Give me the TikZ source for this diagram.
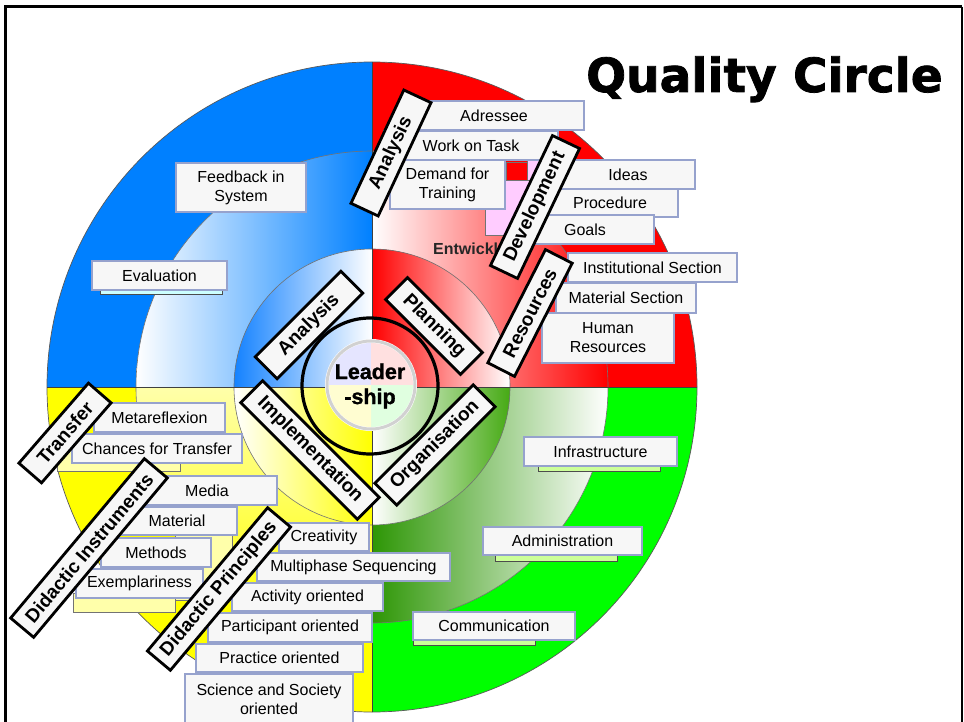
\documentclass[tikz,border=0pt]{standalone}
\usepackage{fontspec}
\setmainfont{Liberation Sans}
\newfontfamily\ttlfont{DejaVu Sans}[BoldFeatures={FakeBold=1.6}]
\newfontfamily\heavyfont{Liberation Sans}[BoldFeatures={FakeBold=1.2}]
\definecolor{qblue}{RGB}{0,128,255}
\definecolor{qred}{RGB}{255,0,0}
\definecolor{qgreen}{RGB}{0,255,0}
\definecolor{qyellow}{RGB}{255,255,0}
\definecolor{dgreen}{RGB}{45,150,5}
\definecolor{igreen}{RGB}{70,170,20}
\definecolor{iblue}{RGB}{20,130,255}
\definecolor{paley}{RGB}{255,255,170}
\definecolor{boxfill}{RGB}{247,247,247}
\definecolor{boxline}{RGB}{150,162,205}
\definecolor{pinkbg}{RGB}{255,204,255}
\definecolor{shgreen}{RGB}{204,255,153}
\definecolor{shcyan}{RGB}{204,255,255}
\tikzset{
  lbl/.style={draw=boxline, fill=boxfill, line width=1.3pt, inner sep=0pt, align=center,
    font=\fontsize{16}{19}\selectfont},
  cat/.style={draw=black, fill=boxfill, line width=2.8pt, inner sep=0pt, minimum height=30pt,
    font=\fontsize{19}{22}\selectfont\bfseries},
  shadowbar/.style={fill=#1, draw=black!70, line width=0.5pt},
  bgrect/.style={fill=#1, draw=black!55, line width=0.5pt},
  ring/.style={draw=black!55, line width=0.6pt},
  sec/.style n args={4}{insert path={(#1:#3) arc[start angle=#1,end angle=#2,radius=#3]
    -- (#2:#4) arc[start angle=#2,end angle=#1,radius=#4] -- cycle}},
  pie/.style n args={3}{insert path={(0,0) -- (#1:#3) arc[start angle=#1,end angle=#2,radius=#3] -- cycle}}
}
\newcommand\qcbox[6]{\node[lbl, minimum width={(#4-#2)*1pt}, minimum height={(#5-#3)*1pt}] (#1) at ({(#2+#4)/2},{(#3+#5)/2}) {#6};}
\begin{document}
\begin{tikzpicture}[x=1pt,y=-1pt]
\useasboundingbox (0,0) rectangle (964,722);
\clip (0,0) rectangle (964,722);
\fill[white] (0,0) rectangle (964,722);

% ---------- the circle ----------
\begin{scope}[shift={(372,387)}]
  \fill[qblue, pie={180}{270}{325}];
  \fill[qred, pie={270}{360}{325}];
  \fill[qgreen, pie={0}{90}{325}];
  \fill[qyellow, pie={90}{180}{325}];
  \shade[left color=white, right color=qblue, sec={180}{270}{138}{236}];
  \shade[left color=white, right color=qred, sec={270}{360}{138}{236}];
  \shade[left color=dgreen, right color=white, sec={0}{90}{138}{236}];
  \shade[top color=paley, bottom color=qyellow, sec={90}{180}{138}{236}];
  \shade[left color=iblue, right color=white, pie={180}{270}{138}];
  \shade[left color=qred, right color=white, pie={270}{360}{138}];
  \shade[left color=white, right color=igreen, pie={0}{90}{138}];
  \shade[left color=white, right color=qyellow, pie={90}{180}{138}];
  \draw[ring] (0,0) circle[radius=138];
  \draw[ring] (0,0) circle[radius=236];
  \draw[draw=black!65, line width=0.7pt] (0,0) circle[radius=325];
  \draw[black!75, line width=0.8pt] (-325,0) -- (325,0) (0,-325) -- (0,325);
\end{scope}

% ---------- hidden background pieces ----------
\filldraw[bgrect=pinkbg] (485,180) rectangle (560,235);
\filldraw[bgrect=pinkbg] (527,160) rectangle (560,180);
\filldraw[bgrect=qred] (506,162) rectangle (527,180);
\node[anchor=west, inner sep=0pt, font=\fontsize{16}{19}\selectfont\bfseries, text=black!85] (ent) at (433,249) {Entwickl};
\filldraw[bgrect=paley] (57,440) rectangle (180,471);
\filldraw[bgrect=paley] (175,535) rectangle (232,600);
\filldraw[bgrect=paley] (73,593) rectangle (175,612);
\filldraw[shadowbar=shcyan] (100,284) rectangle (222,294);
\filldraw[shadowbar=shgreen] (538,460) rectangle (660,471);
\filldraw[shadowbar=shgreen] (495,549) rectangle (617,561);
\filldraw[shadowbar=shgreen] (413,634) rectangle (535,645);

% ---------- label boxes ----------
\qcbox{adr}{404}{101}{584}{130}{Adressee}
\qcbox{wot}{384}{131}{558}{160}{Work on Task}
\qcbox{dft}{390}{160}{505}{209}{Demand for\\Training}
\qcbox{ide}{561}{160}{695}{189}{Ideas}
\qcbox{pro}{542}{189}{678}{217}{Procedure}
\qcbox{goa}{516}{215}{654}{244}{Goals}
\qcbox{ins}{568}{253}{737}{282}{Institutional Section}
\qcbox{mats}{556}{283}{696}{313}{Material Section}
\qcbox{hum}{542}{313}{674}{363}{Human\\Resources}
\qcbox{fbs}{176}{163}{306}{212}{Feedback in\\System}
\qcbox{eva}{92}{261}{227}{290}{Evaluation}
\qcbox{met}{94}{403}{225}{432}{Metareflexion}
\qcbox{cft}{72}{434}{242}{463}{Chances for Transfer}
\qcbox{med}{137}{476}{277}{505}{Media}
\qcbox{mat}{117}{507}{237}{535}{Material}
\qcbox{mth}{101}{538}{211}{567}{Methods}
\qcbox{exe}{76}{569}{203}{598}{Exemplariness}
\qcbox{cre}{279}{523}{369}{551}{Creativity}
\qcbox{mps}{257}{553}{450}{581}{Multiphase Sequencing}
\qcbox{act}{232}{583}{383}{611}{Activity oriented}
\qcbox{par}{208}{613}{372}{642}{Participant oriented}
\qcbox{pra}{196}{644}{363}{672}{Practice oriented}
\qcbox{sci}{185}{674}{353}{724}{Science and Society\\oriented}
\qcbox{inf}{524}{437}{677}{466}{Infrastructure}
\qcbox{adm}{483}{527}{642}{555}{Administration}
\qcbox{com}{413}{612}{575}{640}{Communication}

% ---------- outer category labels ----------
\node[cat, minimum width=125pt, rotate=65] (anaO) at (391,153) {Analysis};
\node[cat, minimum width=144pt, rotate=64.5] (dev) at (535,207) {Development};
\node[cat, minimum width=127pt, rotate=63] (res) at (530,313) {Resources};
\node[cat, minimum width=106pt, rotate=49] (tra) at (65,433) {Transfer};
\node[cat, minimum width=208pt, rotate=50] (dins) at (89,548) {Didactic Instruments};
\node[cat, minimum width=187pt, rotate=50] (dpri) at (219,589) {Didactic Principles};

% ---------- inner category labels ----------
\node[cat, minimum width=121pt, minimum height=31pt, rotate=45] (anaI) at (309,325) {Analysis};
\node[cat, minimum width=106pt, minimum height=31pt, rotate=-45] (pla) at (434,326) {Planning};
\node[cat, minimum width=165pt, minimum height=31pt, rotate=-45] (imp) at (310,450) {Implementation};
\node[cat, minimum width=139pt, minimum height=31pt, rotate=45] (org) at (435,445) {Organisation};

% ---------- leadership ----------
\begin{scope}[shift={(371,385)}]
  \fill[white] (0,0) circle[radius=46];
  \fill[blue!10, pie={180}{270}{42}];
  \fill[red!12, pie={270}{360}{42}];
  \fill[green!12, pie={0}{90}{42}];
  \fill[yellow!18, pie={90}{180}{42}];
  \draw[black!18, line width=3pt] (0,0) circle[radius=44];
\end{scope}
\node[circle, draw=black, line width=3.2pt, minimum size=136pt, inner sep=0pt, align=center,
  font=\heavyfont\fontsize{21.5}{25}\selectfont\bfseries] (lead) at (370,386) {Leader\\-ship};

% ---------- title ----------
\node[anchor=base west, inner sep=0pt, font=\ttlfont\bfseries\fontsize{47}{50}\selectfont] (title) at (586,92) {Quality Circle};

% ---------- frame ----------
\draw[black, line width=3pt] (5,722) -- (5,7) -- (962,7);
\draw[black, line width=2pt] (962,7) -- (962,722);
\end{tikzpicture}
\end{document}
